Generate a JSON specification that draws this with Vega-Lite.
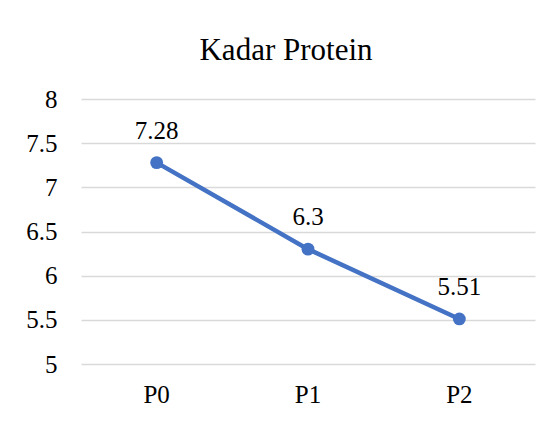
{
  "$schema": "https://vega.github.io/schema/vega-lite/v6.json",
  "width": 454,
  "height": 265,
  "autosize": {"type": "none"},
  "padding": {"left": 81, "top": 99, "right": 19, "bottom": 59},
  "background": "white",
  "title": {
    "text": "Kadar Protein",
    "font": "Liberation Serif",
    "fontSize": 31,
    "fontWeight": "normal",
    "color": "#000000",
    "anchor": "middle",
    "baseline": "alphabetic",
    "offset": -4,
    "dx": -22
  },
  "data": {
    "values": [
      {"perlakuan": "P0", "kadar": 7.28},
      {"perlakuan": "P1", "kadar": 6.3},
      {"perlakuan": "P2", "kadar": 5.51}
    ]
  },
  "encoding": {
    "x": {
      "field": "perlakuan",
      "type": "nominal",
      "scale": {"type": "band", "paddingInner": 0, "paddingOuter": 0},
      "axis": {
        "title": null,
        "labelAngle": 0,
        "domain": false,
        "ticks": false,
        "tickSize": 0,
        "grid": false,
        "labelFont": "Liberation Serif",
        "labelFontSize": 25,
        "labelColor": "#000000",
        "labelBaseline": "alphabetic",
        "labelPadding": 38
      }
    },
    "y": {
      "field": "kadar",
      "type": "quantitative",
      "scale": {"domain": [5, 8], "nice": false, "zero": false},
      "axis": {
        "title": null,
        "values": [5, 5.5, 6, 6.5, 7, 7.5, 8],
        "labelExpr": "toString(datum.value)",
        "domain": false,
        "ticks": false,
        "tickSize": 0,
        "grid": true,
        "gridColor": "#d9d9d9",
        "gridWidth": 1.3,
        "labelFont": "Liberation Serif",
        "labelFontSize": 25,
        "labelColor": "#000000",
        "labelPadding": 24
      }
    }
  },
  "layer": [
    {
      "mark": {"type": "line", "color": "#4472C4", "strokeWidth": 4.5}
    },
    {
      "mark": {"type": "point", "filled": true, "opacity": 1, "color": "#4472C4", "size": 165}
    },
    {
      "mark": {
        "type": "text",
        "font": "Liberation Serif",
        "fontSize": 25,
        "color": "#000000",
        "baseline": "alphabetic",
        "dy": -24
      },
      "encoding": {"text": {"field": "kadar", "type": "nominal"}}
    }
  ],
  "config": {
    "view": {"stroke": null}
  }
}
